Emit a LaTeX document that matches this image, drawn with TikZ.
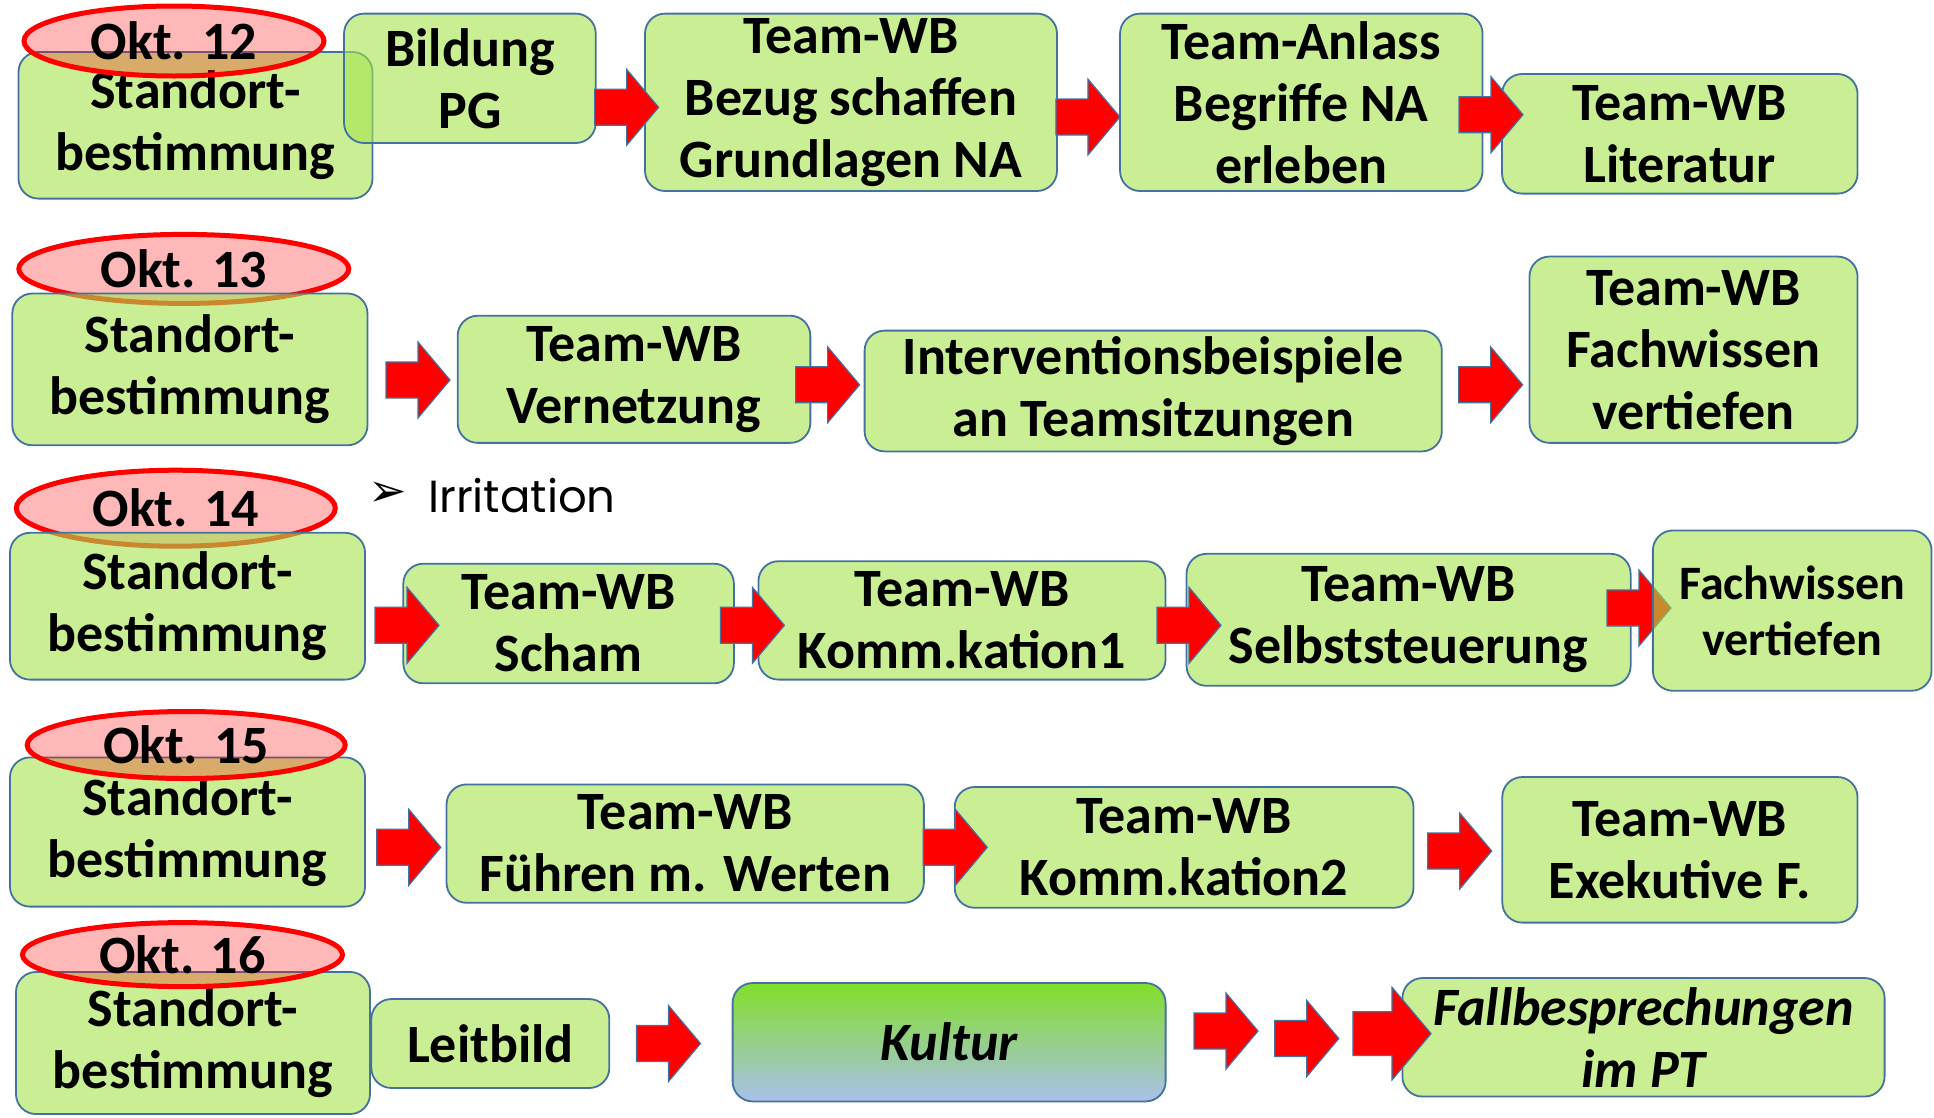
\documentclass[tikz,border=0pt]{standalone}
\usepackage{fontspec}
\setmainfont{Carlito}
\newfontfamily\irrfont{Poppins}
\newfontfamily\symfont{DejaVu Sans}
\usetikzlibrary{shapes.geometric}
\definecolor{boxgreen}{RGB}{165,228,78}
\definecolor{boxline}{RGB}{68,114,160}
\definecolor{kulturtop}{RGB}{130,222,40}
\definecolor{kulturmid}{RGB}{158,205,140}
\definecolor{kulturbot}{RGB}{170,192,235}
\tikzset{
  box/.style={draw=boxline, line width=1.8pt, rounded corners=20pt, fill=boxgreen,
    fill opacity=0.6, text opacity=1, align=center, inner sep=0pt,
    font=\fontsize{54}{62}\selectfont\bfseries},
  smallbox/.style={box, font=\fontsize{48}{56}\selectfont\bfseries},
  kultur/.style={box, fill opacity=1, top color=kulturtop, middle color=kulturmid,
    bottom color=kulturbot, font=\fontsize{54}{62}\selectfont\bfseries\itshape},
  itbox/.style={box, font=\fontsize{54}{62}\selectfont\bfseries\itshape},
  date/.style={ellipse, draw=red, line width=5pt, fill=red, fill opacity=0.28,
    text opacity=1, inner sep=0pt, font=\fontsize{54}{62}\selectfont\bfseries},
  blockarrow/.style={fill=red, draw=boxline, line width=1.2pt},
}
\newcommand\blockarr[4]{%
  \coordinate (#1) at (#2,#3);
  \path[blockarrow, shift={(#1)}, scale=#4]
    (-32,-18) -- (0,-18) -- (0,-38) -- (32,0) -- (0,38) -- (0,18) -- (-32,18) -- cycle;}
\begin{document}
\begin{tikzpicture}[x=1pt,y=-1pt]
\fill[white] (0,0) rectangle (1934,1117);
\useasboundingbox (0,0) rectangle (1934,1117);

% ---------- Row 1 : Okt. 12
\node[box, minimum width=354pt, minimum height=146.6pt] (s1) at (195.5,125.3) {Standort-\\bestimmung};
\node[box, minimum width=251.7pt, minimum height=129.4pt] (b1) at (469.9,78.3) {Bildung\\PG};
\node[date, minimum width=300pt, minimum height=70pt] (e1) at (174,41) {Okt. 12};
\node[box, minimum width=412pt, minimum height=177.4pt] (t1) at (851,102.3) {Team-WB\\Bezug schaffen\\Grundlagen NA};
\node[box, minimum width=362.5pt, minimum height=177.4pt] (t2) at (1301.3,102.3) {Team-Anlass\\Begriffe NA\\erleben};
\node[box, minimum width=355.5pt, minimum height=119.6pt] (t3) at (1679.8,133.8) {Team-WB\\Literatur};
\blockarr{a11}{626.6}{107.3}{1}
\blockarr{a12}{1087.9}{117}{1}
\blockarr{a13}{1491}{114.7}{1}

% ---------- Row 2 : Okt. 13
\node[date, minimum width=330pt, minimum height=69pt] (e2) at (183.8,268.9) {Okt. 13};
\node[box, minimum width=355.2pt, minimum height=151.8pt] (s2) at (189.9,369.4) {Standort-\\bestimmung};
\node[box, minimum width=352.7pt, minimum height=127.1pt] (v2) at (634,379.3) {Team-WB\\Vernetzung};
\node[box, minimum width=577.2pt, minimum height=120.8pt] (i2) at (1153.2,391) {Interventionsbeispiele\\an Teamsitzungen};
\node[box, minimum width=328.1pt, minimum height=186.3pt] (f2) at (1693.5,349.7) {Team-WB\\Fachwissen\\vertiefen};
\blockarr{a21}{418}{380}{1}
\blockarr{a22}{827.6}{384.8}{1}
\blockarr{a23}{1490.6}{384.8}{1}

% ---------- Row 3 : Okt. 14
\node[font=\fontsize{46}{52}\selectfont\symfont, inner sep=0pt] (bul) at (388,494) {➢};
\node[anchor=base west, inner sep=0pt, font=\fontsize{45}{52}\selectfont\irrfont] (irr) at (428,512) {Irritation};
\node[date, minimum width=319pt, minimum height=76pt] (e3) at (175.8,508.2) {Okt. 14};
\node[box, minimum width=355.1pt, minimum height=146.8pt] (s3) at (187.5,606.2) {Standort-\\bestimmung};
\node[box, minimum width=330.6pt, minimum height=119.6pt] (sc3) at (568.6,623.5) {Team-WB\\Scham};
\node[box, minimum width=407.1pt, minimum height=118.4pt] (k3) at (962,620.4) {Team-WB\\Komm.kation1};
\node[box, minimum width=444.1pt, minimum height=132pt] (se3) at (1408.6,619.8) {Team-WB\\Selbststeuerung};
\blockarr{a31}{407}{625.3}{1}
\blockarr{a32}{752.4}{625.3}{1}
\blockarr{a33}{1189}{625.3}{1}
\blockarr{a34}{1639}{608}{1}
\node[smallbox, minimum width=278.7pt, minimum height=160.3pt] (f3) at (1792.2,610.6) {Fachwissen\\vertiefen};

% ---------- Row 4 : Okt. 15
\node[box, minimum width=355.1pt, minimum height=149.2pt] (s4) at (187.5,832) {Standort-\\bestimmung};
\node[date, minimum width=318pt, minimum height=67pt] (e4) at (186.2,745) {Okt. 15};
\node[box, minimum width=477.3pt, minimum height=118.4pt] (fw4) at (685.2,843.6) {Team-WB\\Führen m. Werten};
\node[box, minimum width=458.8pt, minimum height=120.8pt] (k4) at (1184.1,847.4) {Team-WB\\Komm.kation2};
\node[box, minimum width=355.2pt, minimum height=145.6pt] (ex4) at (1679.9,849.8) {Team-WB\\Exekutive F.};
\blockarr{a41}{408.8}{847.3}{1}
\blockarr{a42}{955.3}{847.3}{1}
\blockarr{a43}{1459.7}{851}{1}

% ---------- Row 5 : Okt. 16
\node[box, minimum width=354pt, minimum height=142.1pt] (s5) at (193,1043) {Standort-\\bestimmung};
\node[date, minimum width=320pt, minimum height=64pt] (e5) at (182.5,954.6) {Okt. 16};
\node[box, minimum width=238pt, minimum height=88.9pt] (lb5) at (490.3,1043.5) {Leitbild};
\node[kultur, minimum width=433pt, minimum height=118.4pt] (ku5) at (949.1,1042.2) {Kultur};
\node[itbox, minimum width=482.2pt, minimum height=118.5pt] (fb5) at (1643.5,1037.3) {Fallbesprechungen\\im PT};
\blockarr{a51}{668.5}{1043.5}{1}
\blockarr{a52}{1226}{1031}{1}
\blockarr{a53}{1306.8}{1038.5}{1}
\blockarr{a54}{1392}{1033.6}{1.22}
\end{tikzpicture}
\end{document}
